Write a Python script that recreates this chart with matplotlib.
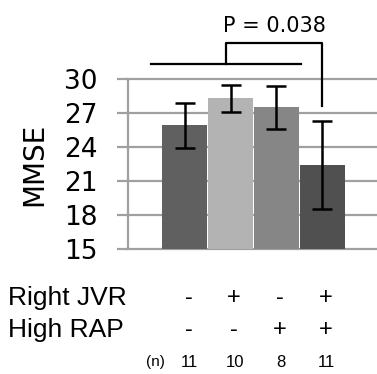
import matplotlib.pyplot as plt
import matplotlib.transforms as mtransforms

groups = [0, 1, 2, 3]
mmse = [25.9, 28.3, 27.5, 22.4]
err = [2.0, 1.2, 1.9, 3.9]
colors = ['#606060', '#b3b3b3', '#868686', '#505050']
right_jvr = ['-', '+', '-', '+']
high_rap = ['-', '-', '+', '+']
n_counts = ['11', '10', '8', '11']
yticks = [15, 18, 21, 24, 27, 30]

fig = plt.figure(figsize=(3.77, 3.74), dpi=100)
ax = fig.add_axes([128 / 377, 125 / 374, 249 / 377, 170 / 374])

ax.bar(groups, mmse, width=0.98, color=colors, zorder=3)
ax.errorbar(groups, mmse, yerr=err, fmt='none', ecolor='black',
            elinewidth=1.8, capsize=7, capthick=1.8, zorder=4)

ax.set_ylim(15, 30)
ax.set_xlim(-1.24, 4.2)
ax.set_yticks(yticks)
ax.set_xticks([])
ax.grid(axis='y', color='#a0a0a0', linewidth=1.6, zorder=0)
for g in ax.get_ygridlines():
    g.set_clip_on(False)
for s in ['top', 'right', 'bottom']:
    ax.spines[s].set_visible(False)
ax.spines['left'].set_color('#a0a0a0')
ax.spines['left'].set_linewidth(1.6)
ax.tick_params(axis='y', length=8, width=1.6, color='#a0a0a0',
               labelsize=19, pad=14)
ax.set_ylabel('MMSE', fontsize=20, labelpad=11)

# significance bracket
kw = dict(color='black', linewidth=1.6, clip_on=False)
ax.plot([-0.74, 2.54], [31.3, 31.3], **kw)
ax.plot([0.91, 0.91, 3.0, 3.0], [31.3, 33.2, 33.2, 27.6], **kw)
ax.text(1.96, 34.7, 'P = 0.038', ha='center', va='center', fontsize=15)

# condition table below the axes
trans = mtransforms.blended_transform_factory(ax.transData, fig.transFigure)
fig.text(8 / 377, 0.203, 'Right JVR', fontsize=19, va='center',
         family='Liberation Sans')
fig.text(8 / 377, 0.118, 'High RAP', fontsize=19, va='center',
         family='Liberation Sans')
for x, a, b, n in zip(groups, right_jvr, high_rap, n_counts):
    ax.text(x + 0.08, 0.203, a, transform=trans, ha='center', va='center',
            fontsize=17, family='Liberation Sans')
    ax.text(x + 0.08, 0.118, b, transform=trans, ha='center', va='center',
            fontsize=17, family='Liberation Sans')
    ax.text(x + 0.1, 0.032, n, transform=trans, ha='center', va='center',
            fontsize=12, family='Liberation Sans')
ax.text(-0.65, 0.032, '(n)', transform=trans, ha='center', va='center',
        fontsize=11, family='Liberation Sans')

fig.savefig('out.png', dpi=100)
